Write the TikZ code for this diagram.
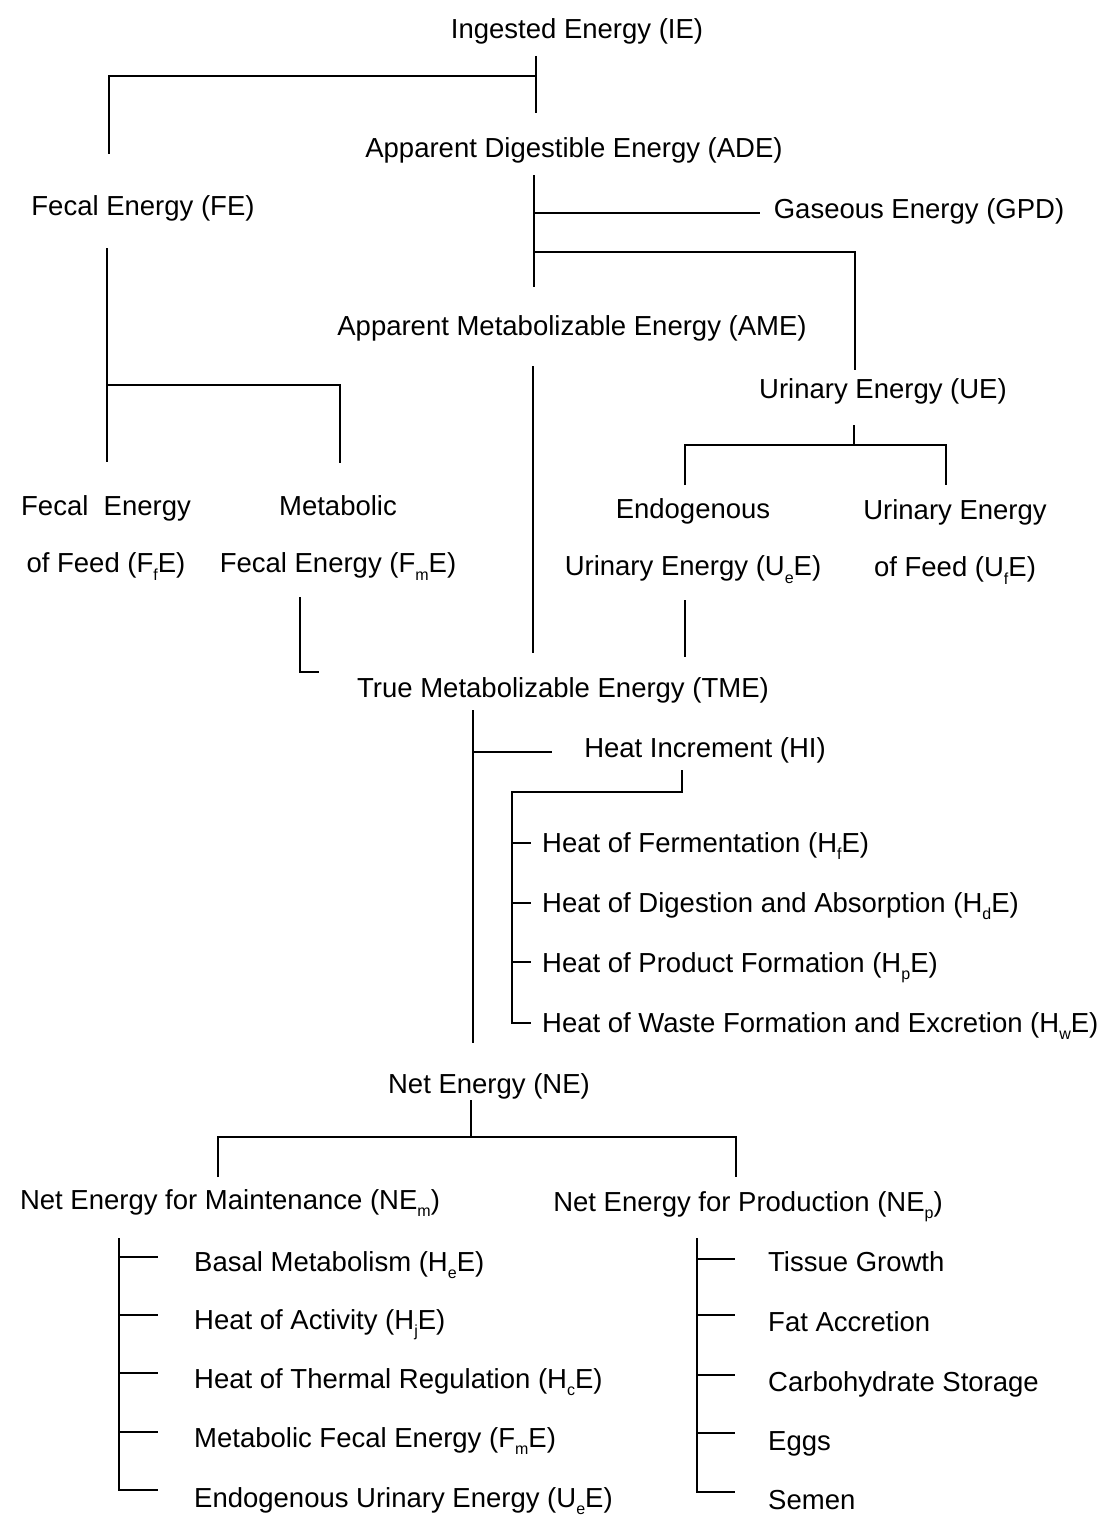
\documentclass[tikz,border=0pt]{standalone}
\usepackage{fontspec}
\setmainfont{Liberation Sans}
\newcommand\sbs[1]{\raisebox{-0.28em}{\fontsize{16pt}{16pt}\selectfont #1}}
\begin{document}
\begin{tikzpicture}[x=1pt,y=-1pt,
  every node/.style={font=\fontsize{27.5pt}{33pt}\selectfont, inner sep=0pt, anchor=base},
  two/.style={align=center, anchor=center, font=\fontsize{27.5pt}{57pt}\selectfont},
  item/.style={anchor=base west},
  conn/.style={line width=2pt, line join=miter}]
\useasboundingbox[fill=white] (0,0) rectangle (1105,1528);

% ---------- nodes ----------
\node (ie)  at (577,38)  {Ingested Energy (IE)};
\node (ade) at (574,157) {Apparent Digestible Energy (ADE)};
\node (fe)  at (143,215) {Fecal Energy (FE)};
\node (gpd) at (919,218) {Gaseous Energy (GPD)};
\node (ame) at (572,335) {Apparent Metabolizable Energy (AME)};
\node (ue)  at (883,398) {Urinary Energy (UE)};
\node[two] (ffe) at (106,538) {Fecal\ \ Energy\\of Feed (F\sbs{f}E)};
\node[two] (fme) at (338,538) {Metabolic\\Fecal Energy (F\sbs{m}E)};
\node[two] (uee) at (693,541) {Endogenous\\Urinary Energy (U\sbs{e}E)};
\node[two] (ufe) at (955,542) {Urinary Energy\\of Feed (U\sbs{f}E)};
\node (tme) at (563,697) {True Metabolizable Energy (TME)};
\node (hi)  at (705,757) {Heat Increment (HI)};
\node[item] (hfe) at (542,852)  {Heat of Fermentation (H\sbs{f}E)};
\node[item] (hde) at (542,912)  {Heat of Digestion and Absorption (H\sbs{d}E)};
\node[item] (hpe) at (542,972)  {Heat of Product Formation (H\sbs{p}E)};
\node[item] (hwe) at (542,1032) {Heat of Waste Formation and Excretion (H\sbs{w}E)};
\node (ne)  at (489,1093) {Net Energy (NE)};
\node (nem) at (230,1209) {Net Energy for Maintenance (NE\sbs{m})};
\node (nep) at (748,1211) {Net Energy for Production (NE\sbs{p})};
\node[item] (m1) at (194,1271) {Basal Metabolism (H\sbs{e}E)};
\node[item] (m2) at (194,1329) {Heat of Activity (H\sbs{j}E)};
\node[item] (m3) at (194,1388) {Heat of Thermal Regulation (H\sbs{c}E)};
\node[item] (m4) at (194,1447) {Metabolic Fecal Energy (F\sbs{m}E)};
\node[item] (m5) at (194,1507) {Endogenous Urinary Energy (U\sbs{e}E)};
\node[item] (p1) at (768,1271) {Tissue Growth};
\node[item] (p2) at (768,1331) {Fat Accretion};
\node[item] (p3) at (768,1391) {Carbohydrate Storage};
\node[item] (p4) at (768,1450) {Eggs};
\node[item] (p5) at (768,1509) {Semen};

% ---------- connector end points ----------
\coordinate (ieA) at (536,56);   \coordinate (ieB) at (536,113);
\coordinate (ieJ) at (536,76);   \coordinate (feA) at (109,154);
\coordinate (adeA) at (534,175); \coordinate (adeB) at (534,287);
\coordinate (adeG) at (534,213); \coordinate (gpdA) at (760,213);
\coordinate (adeU) at (534,252); \coordinate (ueA) at (855,370);
\coordinate (feB) at (107,248);  \coordinate (feC) at (107,462);
\coordinate (feJ) at (107,385);  \coordinate (fmeA) at (340,463);
\coordinate (ameA) at (533,366); \coordinate (ameB) at (533,653);
\coordinate (ueB) at (854,425);  \coordinate (ueJ) at (854,445);
\coordinate (ueeA) at (685,485); \coordinate (ufeA) at (946,485);
\coordinate (fmeB) at (300,597); \coordinate (fmeC) at (319,672);
\coordinate (ueeB) at (685,600); \coordinate (ueeC) at (685,657);
\coordinate (tmeA) at (473,710); \coordinate (tmeB) at (473,1043);
\coordinate (tmeH) at (473,752); \coordinate (hiA) at (552,752);
\coordinate (hiB) at (682,770);  \coordinate (hiJ) at (512,792);
\coordinate (neA) at (471,1100); \coordinate (neJ) at (471,1137);
\coordinate (nemA) at (218,1177); \coordinate (nepA) at (736,1177);
\coordinate (nemB) at (119,1238); \coordinate (nepB) at (697,1238);

% ---------- connectors ----------
\draw[conn] (ieA) -- (ieB);
\draw[conn] (ieJ) -| (feA);
\draw[conn] (adeA) -- (adeB);
\draw[conn] (adeG) -- (gpdA);
\draw[conn] (adeU) -| (ueA);
\draw[conn] (feB) -- (feC);
\draw[conn] (feJ) -| (fmeA);
\draw[conn] (ameA) -- (ameB);
\draw[conn] (ueB) -- (ueJ);
\draw[conn] (ueeA) |- (ueJ) -| (ufeA);
\draw[conn] (fmeB) |- (fmeC);
\draw[conn] (ueeB) -- (ueeC);
\draw[conn] (tmeA) -- (tmeB);
\draw[conn] (tmeH) -- (hiA);
\draw[conn] (hiB) |- (hiJ) |- ([xshift=-11pt]hwe.west |- 0,1023);
\foreach \n/\y in {hfe/843, hde/903, hpe/962}
  \draw[conn] (hiJ |- 0,\y) -- ([xshift=-11pt]\n.west |- 0,\y);
\draw[conn] (neA) -- (neJ);
\draw[conn] (nemA) |- (neJ) -| (nepA);
\draw[conn] (nemB) |- (158,1490);
\foreach \y in {1257,1315,1373,1432}
  \draw[conn] (nemB |- 0,\y) -- (158,\y);
\draw[conn] (nepB) |- (735,1492);
\foreach \y in {1259,1315,1375,1433}
  \draw[conn] (nepB |- 0,\y) -- (735,\y);
\end{tikzpicture}
\end{document}
